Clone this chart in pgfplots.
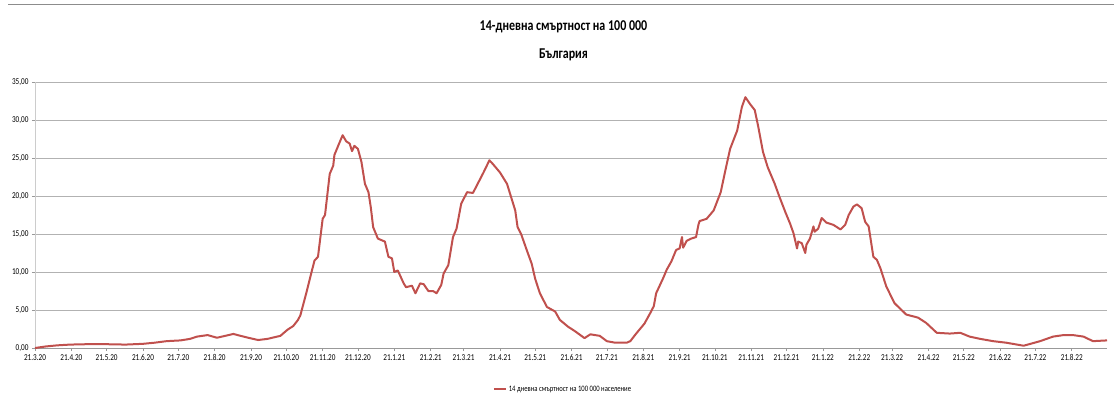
\documentclass[border=0pt]{standalone}
\usepackage{fontspec}
\setmainfont{Carlito}[FakeStretch=0.8]
\usepackage{pgfplots}
\pgfplotsset{compat=1.18}
\definecolor{exred}{RGB}{192,80,77}
\begin{document}
\begin{tikzpicture}[x=1pt,y=1pt]
\path[use as bounding box] (0,0) rectangle (1114,408);
\draw[black!45, line width=0.8pt] (8,404) -- (1114,404);
\begin{axis}[
  at={(35pt,60pt)}, anchor=south west,
  scale only axis, width=1072pt, height=266pt,
  xmin=0, xmax=913, ymin=0, ymax=35,
  ytick={0,5,...,35},
  xtick={0,31,61,92,122,153,184,214,245,275,306,337,365,396,426,457,487,518,549,579,610,640,671,702,730,761,791,822,852,883},
  xticklabels={21.3.20,21.4.20,21.5.20,21.6.20,21.7.20,21.8.20,21.9.20,21.10.20,21.11.20,21.12.20,21.1.21,21.2.21,21.3.21,21.4.21,21.5.21,21.6.21,21.7.21,21.8.21,21.9.21,21.10.21,21.11.21,21.12.21,21.1.22,21.2.22,21.3.22,21.4.22,21.5.22,21.6.22,21.7.22,21.8.22},
  ymajorgrids,
  grid style={draw=black!30, line width=0.8pt},
  axis x line*=bottom, axis y line*=left,
  x axis line style={-, draw=black!40, line width=0.8pt},
  y axis line style={-, draw=black!20, line width=0.8pt},
  tick align=outside, major tick length=3pt,
  tick style={draw=black!40, line width=0.6pt},
  xticklabel style={font=\fontsize{9}{9}\selectfont},
  yticklabel style={font=\fontsize{9}{9}\selectfont},
  /pgf/number format/.cd, fixed, fixed zerofill, precision=2, use comma, assume math mode=true,
  /pgfplots/.cd,
  legend style={at={(0.4925,-0.155)}, anchor=center, draw=none, font=\fontsize{8.3}{8.3}\selectfont},
  legend image code/.code={\draw[#1, line width=2pt] (0pt,0pt) -- (12pt,0pt);},
  clip=false,
]
\addplot[exred, line width=2pt, line join=round] coordinates {
(0,0.0)(9,0.2)(19,0.35)(30,0.45)(44,0.5)(61,0.5)(77,0.45)(92,0.55)(102,0.7)(112,0.9)
(124,1.0)(132,1.2)(138,1.5)(147,1.7)(155,1.35)(162,1.6)(169,1.85)(175,1.6)(183,1.3)(190,1.05)
(198,1.2)(209,1.6)(215,2.4)(220,2.9)(224,3.7)(226,4.3)(231,7.2)(238,11.5)(241,12.0)(245,17.0)
(247,17.5)(251,22.9)(254,24.0)(255,25.4)(259,26.9)(262,28.0)(265,27.2)(268,26.9)(270,25.9)(272,26.6)
(275,26.2)(278,24.5)(281,21.6)(284,20.5)(286,18.5)(288,15.9)(292,14.4)(295,14.2)(298,14.0)(301,12.0)
(304,11.8)(306,10.0)(309,10.2)(314,8.5)(316,8.0)(321,8.2)(324,7.2)(328,8.5)(331,8.4)(335,7.5)
(339,7.5)(342,7.2)(346,8.3)(348,9.8)(352,10.9)(356,14.6)(359,15.7)(363,19.0)(368,20.5)(373,20.4)
(377,21.6)(382,23.1)(387,24.7)(390,24.2)(396,23.1)(402,21.6)(406,19.6)(409,18.1)(411,15.9)(414,15.0)
(419,12.8)(423,11.1)(426,9.1)(430,7.2)(436,5.4)(443,4.8)(447,3.7)(454,2.8)(460,2.2)(468,1.3)
(473,1.8)(481,1.6)(487,0.9)(494,0.7)(504,0.7)(507,0.9)(512,1.9)(519,3.2)(524,4.6)(527,5.5)
(529,7.2)(535,9.2)(538,10.3)(542,11.4)(546,12.9)(549,13.1)(551,14.6)(552,13.2)(555,14.1)(559,14.4)
(563,14.6)(565,16.2)(566,16.7)(572,17.0)(578,18.1)(582,19.7)(584,20.5)(588,23.4)(592,26.2)(598,28.6)
(602,31.7)(605,33.0)(609,32.1)(613,31.3)(616,29.1)(620,25.8)(624,23.8)(630,21.6)(634,19.9)(639,17.9)
(643,16.4)(646,15.1)(649,13.1)(650,14.0)(653,13.8)(656,12.5)(657,13.6)(660,14.4)(663,16.0)(664,15.3)
(667,15.7)(670,17.1)(674,16.5)(680,16.2)(686,15.6)(690,16.2)(693,17.5)(697,18.6)(700,18.9)(704,18.4)
(707,16.6)(710,16.0)(714,12.0)(717,11.6)(720,10.5)(725,8.1)(732,5.9)(742,4.4)(752,4.0)(759,3.3)
(768,2.0)(779,1.9)(788,2.0)(796,1.5)(805,1.2)(816,0.9)(827,0.7)(842,0.3)(856,0.9)(867,1.5)
(876,1.7)(884,1.7)(893,1.5)(901,0.9)(913,1.0)
};
\addlegendentry{14 дневна смъртност на 100 000 население}
\node[font=\bfseries\fontsize{15}{28}\selectfont, align=center] at (rel axis cs:0.493,1.154) {14-дневна смъртност на 100 000\\България};
\end{axis}
\end{tikzpicture}
\end{document}
